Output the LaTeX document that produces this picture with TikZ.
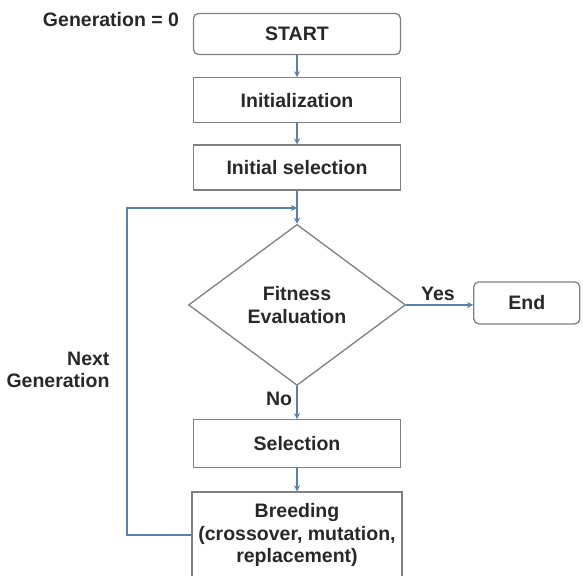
\documentclass[tikz,border=0pt]{standalone}
\usepackage{fontspec}
\setmainfont{Liberation Sans}
\usetikzlibrary{
  shapes.geometric,
  arrows.meta,
  positioning
}
\definecolor{boxgray}{RGB}{125,128,132}
\definecolor{flowblue}{RGB}{88,128,172}
\definecolor{txtgray}{RGB}{40,40,40}
\tikzset{
  stepbox/.style={
    rectangle, draw=boxgray, line width=1.3pt,
    minimum width=207pt, minimum height=45pt, inner sep=2pt,
    text centered, align=center, text=txtgray,
    font=\fontsize{19.5}{22.5}\selectfont\bfseries
  },
  termbox/.style={stepbox, rounded corners=5pt},
  decision/.style={
    diamond, draw=boxgray, line width=1.3pt,
    minimum width=217pt, minimum height=161pt, aspect=1.35,
    inner sep=0pt, text centered, align=center, text=txtgray,
    font=\fontsize{19.5}{22.5}\selectfont\bfseries
  },
  arrow/.style={-{Stealth[length=6pt, width=6pt]}, line width=1.4pt, flowblue},
  lbl/.style={font=\fontsize{19.5}{22.5}\selectfont\bfseries, text=txtgray, align=right},
}

\begin{document}
\begin{tikzpicture}[x=1pt, y=-1pt]

		\useasboundingbox (0,0) rectangle (583,575);

		%% Main column
		\node[termbox, minimum height=41pt] at (297,34) (start) {START};
		\node[stepbox, below=22pt of start]  (init)  {Initialization};
		\node[stepbox, below=21pt of init]   (isel)  {Initial selection};
		\node[decision, below=33pt of isel]  (fit)   {Fitness\\Evaluation};
		\node[stepbox, minimum height=48pt, below=33pt of fit]
		(sel)   {Selection};
		\node[stepbox, minimum width=210pt, minimum height=86pt, below=23pt of sel]
		(breed) {Breeding\\(crossover, mutation,\\replacement)};

		%% Terminal
		\node[termbox, minimum width=106pt, minimum height=42pt,
			right=67pt of fit, yshift=2pt]
		(endn)  {End};

		%% Arrows
		\foreach \from/\to in {start/init, init/isel, isel/fit, fit/sel, sel/breed}
		\draw[arrow] (\from) -- (\to);
		\draw[arrow] (fit.east) -- (fit.east -| endn.west);

		%% Loop back
		\coordinate (lp) at (127,208);
		\coordinate (jn) at (isel.south |- lp);
		\draw[arrow] (breed.west) -| (lp) -- (jn);

		%% Labels
		\node[lbl] at (111,20)   (gen0) {Generation = 0};
		\node[lbl] at (438,294)  (yes)  {Yes};
		\node[lbl] at (279,399)  (no)   {No};
		\node[lbl, anchor=east] at (113,370) (nextg) {Next\\Generation};

	\end{tikzpicture}
\end{document}
